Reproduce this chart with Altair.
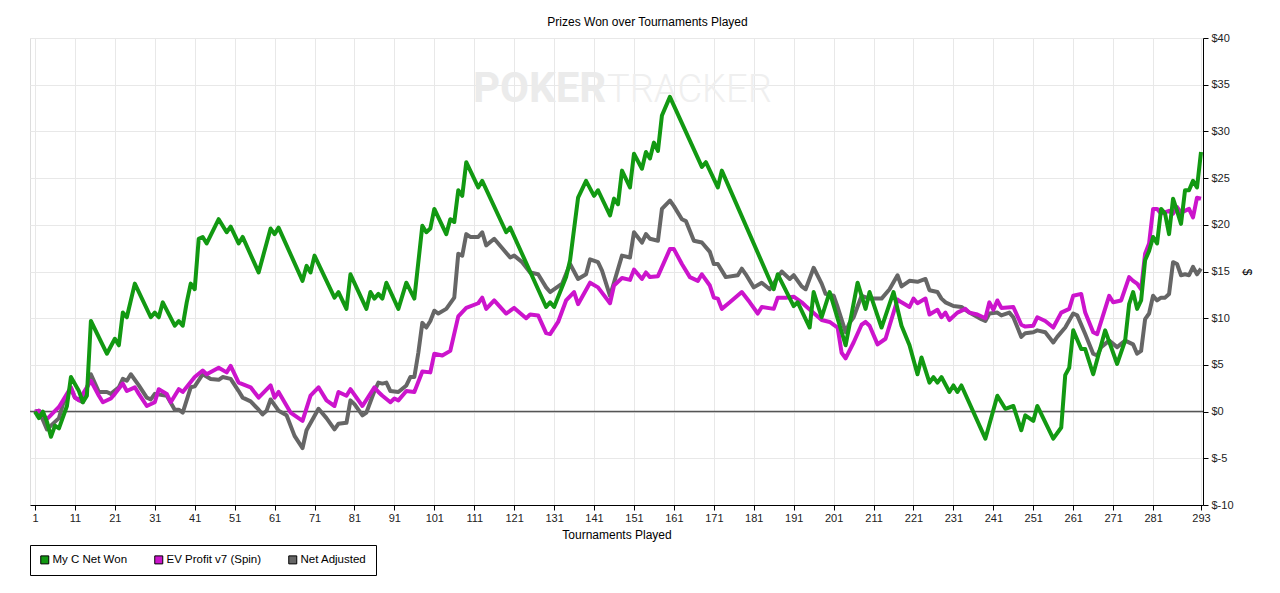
import altair as alt
import pandas as pd

# ---------------- data ----------------
series_names = ["My C Net Won", "EV Profit v7 (Spin)", "Net Adjusted"]
series_colors = ["#129912", "#cc14cc", "#666666"]

green_t = [1, 2, 3, 4, 5, 6, 7, 9, 10, 12, 13, 14, 15, 19, 21, 22, 23, 24, 26, 30,
           31, 32, 33, 36, 37, 38, 39, 40, 41, 42, 43, 44, 47, 49, 50, 52, 53, 57, 60, 61,
           62, 68, 69, 70, 71, 76, 77, 79, 80, 84, 85, 86, 87, 88, 89, 92, 94, 96, 98, 99,
           100, 101, 104, 105, 106, 107, 108, 109, 112, 113, 119, 120, 129, 130, 131, 134, 135, 137, 139, 141,
           142, 145, 146, 147, 148, 150, 151, 153, 154, 155, 156, 157, 158, 160, 168, 169, 172, 173, 186, 187,
           191, 192, 195, 196, 198, 200, 204, 207, 209, 210, 213, 216, 218, 220, 222, 223, 225, 226, 227, 228,
           230, 231, 232, 233, 239, 242, 244, 246, 248, 249, 251, 252, 256, 258, 259, 260, 261, 263, 264, 266,
           269, 272, 274, 275, 276, 277, 278, 279, 280, 281, 282, 283, 284, 285, 286, 287, 288, 289, 290, 291,
           292, 293]
green_v = [0, -0.7, 0, -1.1, -2.7, -1.5, -1.8, 0.6, 3.7, 2.2, 1.0, 1.7, 9.7, 6.2, 7.8, 7.1, 10.6, 10.1, 13.7, 10.1,
           10.6, 10.1, 11.7, 9.2, 9.7, 9.2, 11.7, 13.7, 13.1, 18.5, 18.7, 18.0, 20.6, 19.2, 19.8, 18.0, 18.7, 14.9, 19.6, 19.0,
           19.7, 14.0, 15.6, 14.9, 16.7, 12.2, 12.8, 11.0, 14.7, 11.0, 12.8, 12.1, 12.6, 12.1, 13.8, 11.0, 13.8, 12.1, 19.9, 19.2,
           19.6, 21.7, 19.0, 20.6, 20.3, 23.7, 23.1, 26.7, 24.0, 24.7, 19.2, 19.7, 11.2, 11.7, 11.2, 14.4, 16.2, 22.9, 24.7, 23.1,
           23.7, 21.0, 22.8, 22.2, 25.8, 24.0, 27.6, 26.0, 27.8, 27.1, 28.8, 27.9, 31.7, 33.7, 26.2, 26.7, 24.0, 25.8, 13.1, 14.7,
           11.3, 11.7, 9.0, 12.8, 10.1, 12.8, 7.1, 13.8, 11.0, 12.8, 9.0, 12.8, 9.2, 7.1, 4.0, 5.8, 3.1, 3.7, 3.1, 3.7,
           2.1, 2.8, 2.1, 2.8, -2.9, 1.7, 0.3, 0.6, -2.0, -0.4, -1.0, 0.6, -2.9, -1.7, 3.9, 4.7, 8.7, 6.7, 6.7, 4.0,
           8.7, 5.1, 7.6, 11.5, 12.8, 11.0, 11.9, 16.2, 17.2, 18.7, 18.0, 21.7, 21.2, 19.0, 22.8, 21.5, 20.1, 23.7, 23.7, 24.7,
           24.0, 27.8]

magenta_t = [1, 2, 4, 7, 10, 11, 12, 15, 17, 18, 20, 21, 23, 24, 26, 27, 29, 31, 32, 34,
             35, 37, 38, 41, 43, 44, 47, 49, 50, 52, 55, 57, 60, 61, 62, 65, 68, 70, 72, 74,
             76, 77, 79, 80, 83, 86, 87, 88, 90, 91, 92, 94, 96, 98, 100, 101, 103, 105, 107, 109,
             112, 113, 114, 116, 119, 121, 124, 125, 127, 129, 130, 132, 134, 136, 137, 140, 142, 145, 146, 148,
             150, 151, 153, 154, 155, 157, 160, 161, 163, 165, 167, 168, 170, 171, 172, 173, 175, 178, 180, 182,
             183, 186, 187, 189, 191, 193, 194, 198, 200, 202, 203, 204, 206, 208, 209, 210, 212, 214, 217, 218,
             220, 221, 222, 224, 225, 227, 228, 229, 230, 232, 234, 235, 237, 239, 240, 241, 242, 243, 246, 248,
             249, 251, 252, 254, 256, 258, 260, 261, 263, 264, 266, 267, 270, 271, 273, 275, 276, 277, 278, 279,
             280, 281, 282, 283, 285, 286, 287, 288, 290, 291, 292, 293]
magenta_v = [0, 0.1, -0.8, 0.5, 2.6, 1.5, 1.2, 3.3, 1.7, 1.0, 1.4, 1.9, 3.0, 2.2, 2.6, 1.9, 0.6, 1.0, 2.4, 1.9,
             1.0, 2.4, 2.1, 3.7, 4.4, 4.0, 4.7, 4.2, 4.9, 3.1, 2.6, 1.5, 2.8, 1.5, 2.1, -0.1, -1.0, 1.7, 2.6, 1.2,
             0.6, 2.1, 1.7, 2.4, 0.6, 2.6, 2.1, 1.7, 1.0, 1.4, 1.2, 2.2, 2.1, 4.3, 4.2, 6.2, 6.0, 6.5, 10.2, 11.1,
             11.6, 12.2, 11.0, 11.9, 10.5, 11.1, 10.0, 10.4, 10.3, 8.4, 8.3, 9.6, 11.9, 12.8, 11.5, 13.8, 13.3, 11.6, 13.5, 14.3,
             14.1, 15.2, 14.2, 14.9, 14.4, 14.5, 17.4, 17.4, 15.8, 14.4, 14.0, 14.7, 13.5, 12.2, 12.1, 11.0, 11.7, 12.8, 11.7, 10.5,
             11.2, 11.0, 12.2, 12.2, 12.3, 11.7, 11.3, 9.8, 9.6, 9.0, 6.3, 5.7, 7.4, 9.3, 9.6, 9.2, 7.2, 7.8, 12.0, 11.7,
             11.2, 12.1, 11.6, 12.1, 10.4, 10.9, 10.1, 10.6, 9.8, 10.6, 11.0, 10.6, 10.4, 10.0, 11.7, 10.9, 11.9, 11.1, 11.2, 9.3,
             9.1, 9.2, 10.1, 9.7, 9.0, 10.6, 11.0, 12.4, 12.6, 10.6, 8.5, 8.3, 12.4, 11.7, 11.9, 14.4, 14.0, 13.7, 13.1, 16.9,
             18.0, 21.7, 21.7, 21.2, 21.5, 21.2, 21.9, 21.3, 21.7, 20.8, 22.9, 22.8]

gray_t = [1, 2, 4, 7, 8, 10, 11, 13, 15, 17, 19, 20, 22, 23, 24, 25, 27, 29, 30, 31,
          34, 36, 37, 38, 40, 41, 43, 45, 47, 48, 50, 52, 53, 55, 57, 58, 59, 60, 62, 64,
          66, 68, 69, 72, 74, 76, 77, 79, 80, 81, 83, 84, 86, 87, 88, 89, 90, 92, 94, 95,
          96, 97, 98, 99, 100, 101, 102, 104, 106, 107, 108, 109, 110, 112, 113, 114, 116, 120, 121, 123,
          125, 127, 129, 130, 133, 135, 137, 139, 140, 142, 143, 145, 146, 148, 150, 151, 153, 154, 155, 157,
          158, 160, 161, 163, 164, 166, 168, 170, 171, 172, 174, 177, 178, 179, 181, 183, 185, 188, 189, 190,
          191, 193, 194, 196, 198, 199, 201, 202, 204, 205, 206, 208, 210, 213, 215, 217, 218, 220, 222, 224,
          225, 227, 228, 229, 231, 233, 235, 238, 239, 240, 242, 243, 245, 246, 248, 249, 251, 252, 254, 256,
          257, 259, 261, 262, 264, 266, 267, 268, 270, 272, 274, 276, 277, 278, 279, 280, 281, 282, 283, 284,
          285, 286, 287, 288, 289, 290, 291, 292, 293]
gray_v = [0, 0.1, -1.9, -0.7, 0.8, 2.5, 1.5, 1.0, 4.0, 2.1, 2.1, 1.9, 2.6, 3.5, 3.3, 4.0, 2.8, 1.5, 1.3, 1.9,
          1.7, 0.2, 0.2, -0.1, 2.6, 2.7, 4.0, 3.5, 3.4, 3.7, 3.5, 2.2, 1.5, 1.1, 0.2, -0.3, 0.1, 1.3, 0.1, -0.4,
          -2.6, -3.9, -2.0, 0.3, -0.7, -1.9, -1.3, -1.2, 1.2, 0.8, -0.4, -0.1, 2.2, 3.1, 3.0, 3.1, 2.2, 2.1, 2.8, 3.7,
          3.7, 6.3, 9.5, 9.0, 9.7, 10.8, 10.5, 11.0, 12.2, 16.9, 16.7, 19.0, 18.7, 18.7, 19.2, 17.8, 18.5, 16.5, 16.7, 16.0,
          14.9, 14.7, 13.3, 12.8, 13.7, 15.8, 14.2, 14.7, 16.3, 16.0, 15.1, 12.4, 13.8, 16.7, 16.5, 19.2, 18.1, 19.0, 18.5, 18.3,
          21.7, 22.6, 22.0, 20.6, 20.4, 18.3, 18.1, 17.1, 15.8, 15.8, 14.4, 14.6, 15.3, 14.7, 13.3, 13.8, 13.1, 15.0, 14.6, 14.2,
          14.6, 13.4, 13.1, 15.4, 13.7, 12.6, 12.4, 11.2, 8.5, 9.5, 10.1, 12.4, 12.1, 12.1, 13.1, 14.6, 13.4, 14.0, 13.9, 14.2,
          13.0, 12.8, 12.1, 11.7, 11.3, 11.2, 10.6, 9.9, 9.7, 10.5, 10.6, 10.3, 10.6, 10.1, 8.0, 8.4, 8.5, 8.7, 8.5, 7.4,
          8.0, 9.0, 10.5, 10.3, 8.3, 6.2, 6.0, 6.9, 7.6, 6.9, 7.6, 7.2, 6.2, 6.5, 9.9, 10.5, 12.4, 11.9, 12.2, 12.2,
          12.6, 16.0, 15.8, 14.6, 14.7, 14.6, 15.5, 14.7, 15.3]

x_ticks = [1, 11, 21, 31, 41, 51, 61, 71, 81, 91, 101, 111, 121, 131, 141, 151, 161,
           171, 181, 191, 201, 211, 221, 231, 241, 251, 261, 271, 281, 293]
y_ticks = [-10, -5, 0, 5, 10, 15, 20, 25, 30, 35, 40]

chart_title = "Prizes Won over Tournaments Played"
x_title = "Tournaments Played"
y_title = "$"
watermark_bold = ["POKER"]
watermark_light = ["TRACKER"]

FONT = "Liberation Sans, Arial, sans-serif"

df_green = pd.DataFrame({"t": green_t, "v": green_v})
df_mag = pd.DataFrame({"t": magenta_t, "v": magenta_v})
df_gray = pd.DataFrame({"t": gray_t, "v": gray_v})
df_keys = pd.DataFrame({"series": series_names})

x_enc = alt.X("t:Q",
              scale=alt.Scale(domain=[-0.25, 293.5], nice=False, zero=False),
              axis=alt.Axis(values=x_ticks, title=x_title, labelFontSize=11, labelFont=FONT,
                            labelColor="#222", titleFont=FONT, titleFontSize=12,
                            titleFontWeight="normal", titleColor="#000", titlePadding=6,
                            tickSize=5, tickColor="#000", domainColor="#000",
                            gridColor="#e8e8e8", labelPadding=2, labelFlush=False))
y_enc = alt.Y("v:Q",
              scale=alt.Scale(domain=[-10, 40], nice=False, zero=False),
              axis=alt.Axis(orient="right", values=y_ticks, labelExpr="'$' + datum.value",
                            title=y_title, titleAngle=90, titleFont=FONT, titleFontSize=12,
                            titleFontWeight="normal", titleColor="#000", titlePadding=6,
                            labelFontSize=11, labelFont=FONT, labelColor="#222",
                            tickSize=5, tickColor="#000", domainColor="#000",
                            gridColor="#e8e8e8", labelPadding=3))

color_scale = alt.Scale(domain=series_names, range=series_colors)
legend = alt.Legend(orient="none", legendX=0, legendY=507, direction="horizontal",
                    symbolType="square", symbolSize=64, symbolStrokeColor="#000",
                    symbolStrokeWidth=1, labelFont=FONT, labelFontSize=11.5,
                    labelColor="#000", columnPadding=24, padding=9, strokeColor="#000",
                    fillColor="#fff", labelOffset=2)


def series_line(df, col):
    return alt.Chart(df).mark_line(strokeWidth=4, strokeJoin="round").encode(
        x=x_enc, y=y_enc, color=alt.value(col))


# invisible filled squares that carry the (filled-square) legend
legend_keys = alt.Chart(df_keys).mark_square(size=64, clip=True, opacity=1).encode(
    x=alt.value(-60), y=alt.value(-60),
    color=alt.Color("series:N", scale=color_scale, legend=legend, title=None))

wm1 = alt.Chart(pd.DataFrame({"w": watermark_bold})).mark_text(
    font="Roboto, Liberation Sans, sans-serif", fontSize=42,
    fontWeight="bold", color="#ebebeb", align="left", baseline="alphabetic"
).encode(text="w:N", x=alt.value(443), y=alt.value(64))
wm2 = alt.Chart(pd.DataFrame({"w": watermark_light})).mark_text(
    font="Roboto, Liberation Sans, sans-serif", fontSize=38,
    fontWeight=300, color="#efefef", align="left", baseline="alphabetic"
).encode(text="w:N", x=alt.value(577), y=alt.value(64))

zero_line = alt.Chart(pd.DataFrame({"z": [0]})).mark_rule(color="#555", strokeWidth=1.5).encode(
    y=alt.Y("z:Q", scale=alt.Scale(domain=[-10, 40], nice=False, zero=False)))

chart = alt.layer(
    legend_keys, wm1, wm2, zero_line,
    series_line(df_gray, series_colors[2]),
    series_line(df_mag, series_colors[1]),
    series_line(df_green, series_colors[0]),
).properties(
    width=1173, height=467,
    title=alt.TitleParams(chart_title, font=FONT, fontSize=12, fontWeight="normal",
                          color="#000", anchor="middle", dx=31, offset=3),
    autosize=alt.AutoSizeParams(type="none"),
    padding={"left": 22, "top": 30, "right": 60, "bottom": 80},
).configure_view(
    stroke="#000", strokeWidth=1
).configure(background="#ffffff")

chart.save("out.html", embed_options={"renderer": "svg", "actions": False})
